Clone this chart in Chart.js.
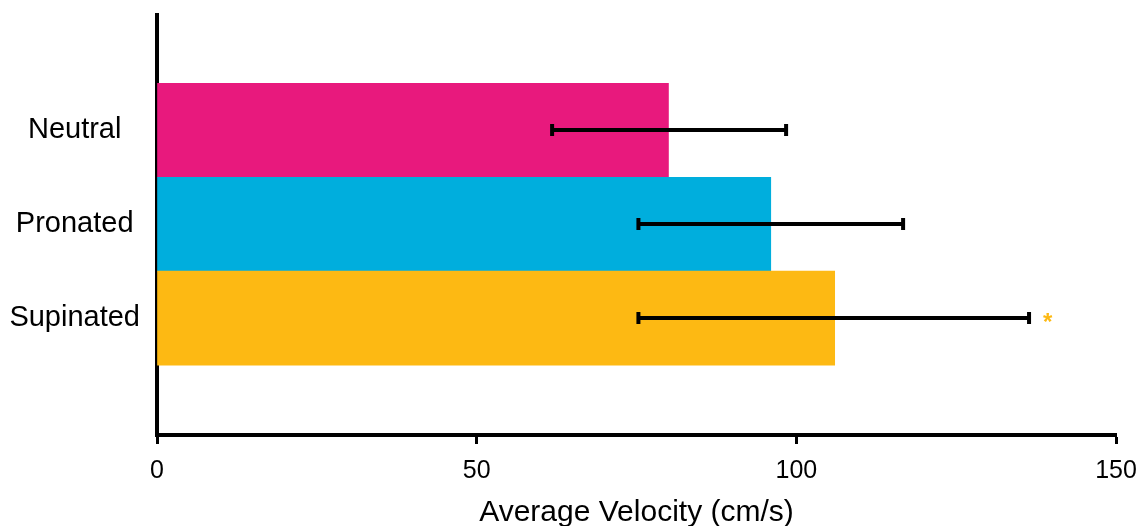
<!DOCTYPE html>
<html>
<head>
<meta charset="utf-8">
<script src="https://cdn.jsdelivr.net/npm/chart.js@4/dist/chart.umd.min.js"></script>
<style>
  html, body { margin: 0; padding: 0; background: #fff; }
  #wrap { width: 1147px; height: 526px; position: relative; }
</style>
</head>
<body>
<div id="wrap"><canvas id="c"></canvas></div>
<script>
(function () {
    'use strict';

    // ---- data ----
    var categories = ['Neutral', 'Pronated', 'Supinated'];
    var velocity = [80, 96, 106];
    var errLow = [61.8, 75.3, 75.3];
    var errHigh = [98.4, 116.7, 136.4];
    var barColors = ['#E8197D', '#00AEDD', '#FDB913'];
    var xTicks = [0, 50, 100, 150];
    var starAt = { cat: 2, value: 139.3, text: '*' };

    var FONT = '"Liberation Sans", Arial, sans-serif';

    // error bars + significance star, drawn off the scales
    var errorBars = {
        id: 'errorBars',
        afterDatasetsDraw: function (chart) {
            var ctx = chart.ctx, xs = chart.scales.x, ys = chart.scales.y;
            ctx.save();
            ctx.strokeStyle = '#000';
            ctx.lineWidth = 4;
            categories.forEach(function (c, i) {
                var y = Math.round(ys.getPixelForValue(i));
                var x0 = xs.getPixelForValue(errLow[i]);
                var x1 = xs.getPixelForValue(errHigh[i]);
                ctx.beginPath();
                ctx.moveTo(x0, y); ctx.lineTo(x1, y);
                ctx.moveTo(x0, y - 6); ctx.lineTo(x0, y + 6);
                ctx.moveTo(x1, y - 6); ctx.lineTo(x1, y + 6);
                ctx.stroke();
            });
            ctx.fillStyle = barColors[starAt.cat];
            ctx.font = 'bold 24px ' + FONT;
            ctx.textAlign = 'center';
            ctx.textBaseline = 'middle';
            ctx.fillText(starAt.text, xs.getPixelForValue(starAt.value), ys.getPixelForValue(starAt.cat) + 5);
            ctx.restore();
        }
    };

    new Chart(document.getElementById('c'), {
        type: 'bar',
        data: {
            datasets: [{
                data: velocity.map(function (v, i) { return { x: v, y: i }; }),
                backgroundColor: barColors,
                borderWidth: 0,
                barPercentage: 1,
                categoryPercentage: 1
            }]
        },
        options: {
            indexAxis: 'y',
            responsive: true,
            maintainAspectRatio: false,
            animation: false,
            layout: { padding: { top: 0, right: 0, bottom: 0, left: 0 } },
            plugins: { legend: { display: false }, tooltip: { enabled: false } },
            scales: {
                x: {
                    type: 'linear', min: 0, max: 150,
                    afterBuildTicks: function (axis) {
                        axis.ticks = xTicks.map(function (v) { return { value: v }; });
                    },
                    afterFit: function (axis) { axis.paddingRight = 31; },
                    grid: { drawOnChartArea: false, drawTicks: true, tickLength: 9, tickWidth: 3, color: '#000' },
                    border: { display: true, color: '#000', width: 4 },
                    ticks: { color: '#000', padding: 12, maxRotation: 0, font: { family: FONT, size: 25 } },
                    title: {
                        display: true, text: 'Average Velocity (cm/s)', color: '#000',
                        padding: { top: -2, bottom: -3 }, font: { family: FONT, size: 30, lineHeight: 1.1 }
                    }
                },
                y: {
                    type: 'linear', reverse: true, offset: false, min: -1.234, max: 3.245,
                    afterBuildTicks: function (axis) {
                        axis.ticks = categories.map(function (c, i) { return { value: i }; });
                    },
                    afterFit: function (axis) { axis.width = 157; },
                    // tick marks hidden, tickLength only keeps labels off the axis line
                    grid: { display: false, drawTicks: true, tickLength: 17, offset: false },
                    border: { display: true, color: '#000', width: 4 },
                    ticks: {
                        color: '#000', padding: 0, crossAlign: 'center',
                        font: { family: FONT, size: 29, lineHeight: 1 },
                        callback: function (v) { return categories[v]; }
                    }
                }
            }
        },
        plugins: [errorBars]
    });
})();
</script>
</body>
</html>
